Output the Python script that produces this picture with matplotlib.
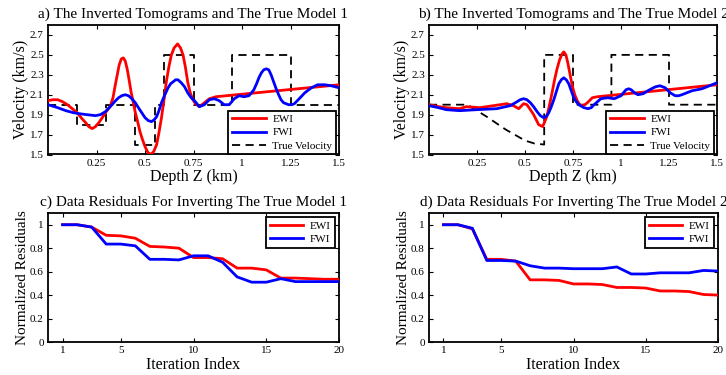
import matplotlib
matplotlib.use("Agg")
import matplotlib.pyplot as plt

plt.rcParams['font.family'] = ['Liberation Serif', 'DejaVu Serif']
plt.rcParams['mathtext.fontset'] = 'stix'

# ---------------- data ----------------
# Panel a: inverted tomograms, true model 1
a_ewi_z = [0.0, 0.025, 0.05, 0.075, 0.10, 0.125, 0.15, 0.175, 0.194, 0.21, 0.228, 0.245, 0.262, 0.28,
           0.296, 0.32, 0.335, 0.347, 0.357, 0.367, 0.378, 0.388, 0.398, 0.408, 0.418, 0.428, 0.44,
           0.449, 0.462, 0.474, 0.487, 0.5, 0.515, 0.53, 0.545, 0.56, 0.572, 0.585, 0.598, 0.61,
           0.623, 0.636, 0.65, 0.668, 0.683, 0.696, 0.708, 0.72, 0.733, 0.747, 0.76, 0.78, 0.80,
           0.832, 0.866, 1.5]
a_ewi_v = [2.04, 2.05, 2.05, 2.03, 2.0, 1.96, 1.92, 1.86, 1.82, 1.78, 1.76, 1.78, 1.82, 1.87,
           1.92, 1.98, 2.07, 2.2, 2.3, 2.4, 2.46, 2.47, 2.44, 2.36, 2.25, 2.13, 2.02,
           1.93, 1.83, 1.73, 1.65, 1.58, 1.52, 1.5, 1.53, 1.6, 1.72, 1.87, 2.05, 2.23,
           2.38, 2.5, 2.57, 2.61, 2.57, 2.5, 2.38, 2.23, 2.12, 2.05, 2.01, 1.98, 2.01,
           2.06, 2.08, 2.2]
a_fwi_z = [0.0, 0.05, 0.092, 0.13, 0.16, 0.2, 0.245, 0.27, 0.296, 0.315, 0.33, 0.348, 0.364, 0.38,
           0.398, 0.415, 0.432, 0.45, 0.466, 0.483, 0.5, 0.517, 0.534, 0.548, 0.56, 0.572, 0.585,
           0.60, 0.619, 0.632, 0.645, 0.658, 0.67, 0.687, 0.704, 0.72, 0.738, 0.755, 0.78, 0.806,
           0.832, 0.857, 0.883, 0.908, 0.934, 0.96, 0.985, 1.01, 1.036, 1.061, 1.075, 1.087, 1.10,
           1.112, 1.125, 1.138, 1.15, 1.163, 1.176, 1.189, 1.201, 1.214, 1.24, 1.257, 1.27, 1.29,
           1.324, 1.358, 1.39, 1.426, 1.46, 1.5]
a_fwi_v = [2.0, 1.97, 1.94, 1.92, 1.91, 1.90, 1.89, 1.90, 1.93, 1.97, 2.0, 2.04, 2.07, 2.09,
           2.1, 2.09, 2.06, 2.02, 1.97, 1.92, 1.87, 1.84, 1.83, 1.85, 1.88, 1.94, 2.02,
           2.09, 2.17, 2.21, 2.23, 2.25, 2.25, 2.22, 2.18, 2.12, 2.07, 2.04, 1.98, 2.0,
           2.05, 2.06, 2.04, 2.0, 2.0, 2.06, 2.09, 2.08, 2.09, 2.15, 2.21, 2.27, 2.32,
           2.35, 2.36, 2.35, 2.3, 2.23, 2.16, 2.1, 2.05, 2.02, 2.0, 2.0, 2.01, 2.05,
           2.12, 2.17, 2.2, 2.2, 2.19, 2.17]
a_true_z = [0.0, 0.15, 0.15, 0.30, 0.30, 0.45, 0.45, 0.55, 0.55, 0.60, 0.60, 0.75, 0.75,
            0.95, 0.95, 1.25, 1.25, 1.5]
a_true_v = [2.0, 2.0, 1.8, 1.8, 2.0, 2.0, 1.6, 1.6, 2.0, 2.0, 2.5, 2.5, 2.0,
            2.0, 2.5, 2.5, 2.0, 2.0]

# Panel b: inverted tomograms, true model 2
b_ewi_z = [0.0, 0.05, 0.09, 0.16, 0.195, 0.265, 0.335, 0.37, 0.405, 0.44, 0.467, 0.493, 0.51,
           0.528, 0.545, 0.558, 0.571, 0.592, 0.603, 0.615, 0.628, 0.641, 0.654, 0.667, 0.68,
           0.693, 0.702, 0.713, 0.723, 0.735, 0.746, 0.759, 0.772, 0.785, 0.798, 0.812, 0.825,
           0.851, 0.877, 1.5]
b_ewi_v = [2.0, 1.98, 1.97, 1.96, 1.98, 1.97, 1.99, 2.0, 2.01, 1.99, 1.96, 2.01, 2.0,
           1.95, 1.9, 1.85, 1.8, 1.78, 1.83, 1.89, 2.0, 2.12, 2.25, 2.36, 2.45,
           2.51, 2.53, 2.5, 2.42, 2.3, 2.19, 2.1, 2.04, 2.0, 1.99, 2.0, 2.02,
           2.07, 2.08, 2.2]
b_fwi_z = [0.0, 0.05, 0.09, 0.16, 0.248, 0.353, 0.423, 0.45, 0.475, 0.493, 0.51, 0.528, 0.545,
           0.563, 0.58, 0.597, 0.61, 0.624, 0.637, 0.65, 0.663, 0.676, 0.689, 0.702, 0.715,
           0.728, 0.741, 0.754, 0.767, 0.78, 0.807, 0.828, 0.845, 0.86, 0.895, 0.93, 0.965,
           1.0, 1.013, 1.026, 1.04, 1.053, 1.07, 1.088, 1.115, 1.14, 1.159, 1.18, 1.203, 1.23,
           1.256, 1.282, 1.3, 1.317, 1.37, 1.422, 1.474, 1.5]
b_fwi_v = [1.99, 1.97, 1.95, 1.94, 1.95, 1.96, 1.99, 2.02, 2.05, 2.06, 2.05, 2.02, 1.98,
           1.93, 1.89, 1.87, 1.88, 1.92, 1.98, 2.05, 2.13, 2.21, 2.25, 2.27, 2.25,
           2.21, 2.14, 2.07, 2.03, 2.0, 1.97, 1.96, 1.97, 2.0, 2.06, 2.07, 2.06,
           2.09, 2.12, 2.15, 2.16, 2.15, 2.12, 2.1, 2.11, 2.14, 2.16, 2.18, 2.19, 2.17,
           2.12, 2.09, 2.09, 2.1, 2.14, 2.16, 2.2, 2.22]
b_true_z = [0.0, 0.2, 0.3, 0.4, 0.5, 0.55, 0.60, 0.60, 0.75, 0.75, 0.95, 0.95, 1.25, 1.25, 1.5]
b_true_v = [2.0, 2.0, 1.88, 1.75, 1.64, 1.61, 1.6, 2.5, 2.5, 2.0, 2.0, 2.5, 2.5, 2.0, 2.0]

# Panels c, d: data residuals
iterations = list(range(1, 21))
c_ewi = [1.0, 1.0, 0.98, 0.91, 0.905, 0.885, 0.815, 0.81, 0.80, 0.72, 0.72, 0.71, 0.63, 0.63,
         0.615, 0.545, 0.545, 0.54, 0.535, 0.535]
c_fwi = [1.0, 1.0, 0.98, 0.835, 0.835, 0.82, 0.705, 0.705, 0.70, 0.735, 0.735, 0.68, 0.555, 0.51,
         0.51, 0.54, 0.515, 0.515, 0.515, 0.515]
d_ewi = [1.0, 1.0, 0.965, 0.705, 0.705, 0.69, 0.53, 0.53, 0.525, 0.495, 0.495, 0.49, 0.465, 0.465,
         0.46, 0.435, 0.435, 0.43, 0.405, 0.40]
d_fwi = [1.0, 1.0, 0.97, 0.695, 0.695, 0.69, 0.65, 0.63, 0.63, 0.625, 0.625, 0.625, 0.64, 0.58,
         0.58, 0.59, 0.59, 0.59, 0.61, 0.605]

titles = ["a) The Inverted Tomograms and The True Model 1",
          "b) The Inverted Tomograms and The True Model 2",
          "c) Data Residuals For Inverting The True Model 1",
          "d) Data Residuals For Inverting The True Model 2"]
vel_ticks = [1.5, 1.7, 1.9, 2.1, 2.3, 2.5, 2.7]
vel_ticklabels = ["1.5", "1.7", "1.9", "2.1", "2.3", "2.5", "2.7"]
depth_ticks = [0.25, 0.5, 0.75, 1.0, 1.25, 1.5]
depth_ticklabels = ["0.25", "0.5", "0.75", "1", "1.25", "1.5"]
it_ticks = [1, 5, 10, 15, 20]
res_ticks = [0, 0.2, 0.4, 0.6, 0.8, 1.0]
res_ticklabels = ["0", "0.2", "0.4", "0.6", "0.8", "1"]

# ---------------- figure ----------------
W, H = 726, 375
fig = plt.figure(figsize=(W / 100, H / 100), dpi=100)

def px_axes(x0, y0, x1, y1):
    return fig.add_axes([x0 / W, 1 - y1 / H, (x1 - x0) / W, (y1 - y0) / H])

ax_a = px_axes(48, 25, 339, 154.5)
ax_b = px_axes(429, 25, 717, 154.5)
ax_c = px_axes(48, 213, 339, 342)
ax_d = px_axes(429, 213, 718, 342)

RED = (1, 0, 0)
BLUE = (0, 0, 1)
LW = 2.0
TFS = 11
LFS = 11.5
KFS = 8
GFS = 8

def style(ax):
    ax.tick_params(direction='in', length=3, width=0.8, labelsize=KFS,
                   top=True, right=True, pad=3)
    for s in ax.spines.values():
        s.set_linewidth(1.3)

def legend(ax, anchor, loc):
    leg = ax.legend(loc=loc, bbox_to_anchor=anchor, borderaxespad=0, fontsize=GFS,
                    fancybox=False, framealpha=1, edgecolor='black', handlelength=3.0,
                    labelspacing=0.3, borderpad=0.35, handletextpad=0.6)
    leg.get_frame().set_linewidth(1.3)
    leg.set_zorder(10)

for ax, ez, ev, fz, fv, tz, tv, t in [
        (ax_a, a_ewi_z, a_ewi_v, a_fwi_z, a_fwi_v, a_true_z, a_true_v, titles[0]),
        (ax_b, b_ewi_z, b_ewi_v, b_fwi_z, b_fwi_v, b_true_z, b_true_v, titles[1])]:
    ax.plot(ez, ev, color=RED, lw=LW, label="EWI", zorder=3)
    ax.plot(fz, fv, color=BLUE, lw=LW, label="FWI", zorder=4)
    ax.plot(tz, tv, color='black', lw=1.3, ls=(0, (4.5, 3)), label="True Velocity", zorder=2)
    ax.set_xlim(0, 1.5)
    ax.set_ylim(1.5, 2.8)
    ax.set_xticks(depth_ticks)
    ax.set_xticklabels(depth_ticklabels)
    ax.set_yticks(vel_ticks)
    ax.set_yticklabels(vel_ticklabels)
    ax.set_xlabel("Depth Z (km)", fontsize=LFS, labelpad=1)
    ax.set_ylabel("Velocity (km/s)", fontsize=LFS, labelpad=0.5)
    ax.set_title(t, fontsize=TFS, pad=5)
    style(ax)
    legend(ax, (0.99, 0.0), 'lower right')

for ax, ev, fv, t in [(ax_c, c_ewi, c_fwi, titles[2]), (ax_d, d_ewi, d_fwi, titles[3])]:
    ax.plot(iterations, ev, color=RED, lw=LW, label="EWI", zorder=3)
    ax.plot(iterations, fv, color=BLUE, lw=LW, label="FWI", zorder=4)
    ax.set_xlim(0, 20)
    ax.set_ylim(0, 1.1)
    ax.set_xticks(it_ticks)
    ax.set_yticks(res_ticks)
    ax.set_yticklabels(res_ticklabels)
    ax.set_xlabel("Iteration Index", fontsize=LFS, labelpad=1)
    ax.set_ylabel("Normalized Residuals", fontsize=11, labelpad=0.5)
    ax.set_title(t, fontsize=TFS, pad=5)
    style(ax)
    legend(ax, (0.985, 0.97), 'upper right')

fig.savefig("out.png", dpi=100)
